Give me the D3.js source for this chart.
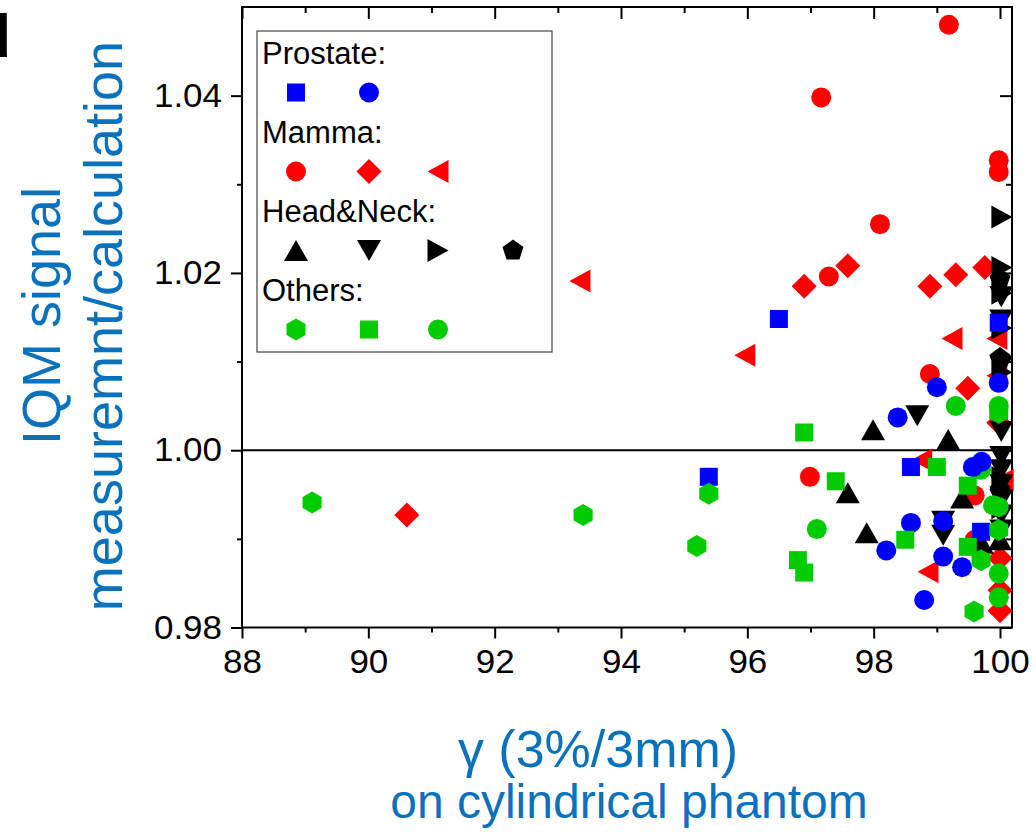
<!DOCTYPE html>
<html>
<head>
<meta charset="utf-8">
<script src="https://cdn.jsdelivr.net/npm/d3@7"></script>
<style>
  html, body { margin: 0; padding: 0; background: #fff; }
  svg { display: block; }
  text { font-family: "Liberation Sans", Arial, Helvetica, sans-serif; }
</style>
</head>
<body>
<svg id="chart" width="1036" height="832"></svg>
<script>
// ---------- data ----------
const xTicks = [88, 90, 92, 94, 96, 98, 100];
const xTickLabels = ["88", "90", "92", "94", "96", "98", "100"];
const yTicks = [0.98, 1.00, 1.02, 1.04];
const yTickLabels = ["0.98", "1.00", "1.02", "1.04"];

const prostateSquareX = [96.5, 95.39, 98.59, 99.98, 99.7];
const prostateSquareY = [1.0148, 0.9970, 0.9981, 1.0144, 0.9908];
const prostateCircleX = [98.38, 99.0, 99.98, 99.57, 99.71, 98.59, 99.1, 98.2, 99.1, 99.4, 98.8];
const prostateCircleY = [1.0037, 1.0071, 1.0076, 0.9981, 0.9987, 0.9918, 0.9920, 0.9887, 0.9880, 0.9868, 0.9831];

const mammaCircleX = [99.19, 97.17, 99.98, 99.98, 98.1, 97.29, 98.89, 96.99, 99.6, 99.6];
const mammaCircleY = [1.0480, 1.0398, 1.0327, 1.0314, 1.0255, 1.0196, 1.0086, 0.9970, 0.9949, 0.9899];
const mammaDiamondX = [90.61, 96.9, 97.59, 98.89, 99.3, 99.76, 99.49, 99.98, 100.0, 100.0, 100.0];
const mammaDiamondY = [0.9927, 1.0185, 1.0208, 1.0185, 1.0198, 1.0206, 1.0070, 1.0031, 0.9878, 0.9842, 0.9819];
const mammaTriangleX = [93.35, 95.96, 99.24, 99.95, 99.95, 98.76, 98.86, 100.05];
const mammaTriangleY = [1.0191, 1.0107, 1.0126, 1.0126, 1.0084, 0.9989, 0.9863, 0.9966];

const hnUpX = [97.99, 99.18, 97.59, 97.89, 99.4, 99.71, 100.0];
const hnUpY = [1.0023, 1.0012, 0.9952, 0.9907, 0.9946, 0.9895, 0.9899];
const hnDownX = [98.69, 99.1, 99.1, 100.02, 100.02, 100.02, 100.02, 100.02, 100.02, 100.02, 100.02, 100.02, 100.02];
const hnDownY = [1.0039, 0.9920, 0.9904, 1.0147, 1.0173, 1.0095, 1.0021, 0.9993, 0.9978, 0.9961, 0.9944, 0.9927, 0.9910];
const hnRightX = [100.03, 100.03, 100.03, 100.03, 100.03, 100.03, 100.03];
const hnRightY = [1.0263, 1.0206, 1.0177, 1.0138, 1.0088, 0.9969, 0.9935];
const hnPentX = [100.0, 100.0, 100.0];
const hnPentY = [1.0193, 1.0104, 0.9955];

const otherHexX = [89.11, 93.4, 95.39, 95.2, 99.7, 99.59, 99.98, 99.98];
const otherHexY = [0.9941, 0.9927, 0.9951, 0.9892, 0.9876, 0.9818, 1.0042, 0.9910];
const otherSquareX = [96.9, 97.4, 96.8, 96.9, 98.5, 99.0, 99.49, 99.49];
const otherSquareY = [1.0020, 0.9965, 0.9876, 0.9862, 0.9899, 0.9981, 0.9960, 0.9891];
const otherCircleX = [97.1, 99.3, 99.98, 99.7, 99.89, 99.98, 99.98, 99.98];
const otherCircleY = [0.9911, 1.0050, 1.0050, 0.9978, 0.9938, 0.9936, 0.9861, 0.9834];

const legendGroups = ["Prostate:", "Mamma:", "Head&Neck:", "Others:"];

// ---------- layout ----------
const svg = d3.select("#chart");
const L = 242, R = 1012, T = 7, B = 627.5;
const x = d3.scaleLinear().domain([88, 100.19]).range([L, R]);
const y = d3.scaleLinear().domain([0.98, 1.05]).range([B, T]);

const BLUE = "#0000ff", RED = "#ff0000", BLACK = "#000000", GREEN = "#00cc00";
const TITLE = "#0a72bc";

// ---------- symbol shapes ----------
function polygon(pts) { return "M" + pts.map(p => p[0].toFixed(2) + "," + p[1].toFixed(2)).join("L") + "Z"; }
function regular(n, r, rot) {
  const pts = [];
  for (let i = 0; i < n; i++) {
    const a = rot + i * 2 * Math.PI / n;
    pts.push([r * Math.cos(a), r * Math.sin(a)]);
  }
  return polygon(pts);
}
const shapes = {
  circle: () => { const r = 10; return `M${r},0A${r},${r} 0 1,1 ${-r},0A${r},${r} 0 1,1 ${r},0Z`; },
  square: () => { const s = 9; return polygon([[-s,-s],[s,-s],[s,s],[-s,s]]); },
  diamond: () => { const d = 12.5; return polygon([[0,-d],[d,0],[0,d],[-d,0]]); },
  left: () => polygon([[-10.5,0],[10.5,-11.5],[10.5,11.5]]),
  right: () => polygon([[10.5,0],[-10.5,-11.5],[-10.5,11.5]]),
  up: () => polygon([[0,-10.5],[12,10.5],[-12,10.5]]),
  down: () => polygon([[0,10.5],[12,-10.5],[-12,-10.5]]),
  pentagon: () => regular(5, 11, -Math.PI / 2),
  hexagon: () => regular(6, 11, -Math.PI / 2)
};

// ---------- axes ----------
const axisG = svg.append("g");
const fontTick = 33;

// bottom
axisG.append("g").attr("transform", `translate(0,${B})`)
  .call(d3.axisBottom(x).tickValues(xTicks).tickFormat((d, i) => xTickLabels[i])
    .tickSizeInner(11).tickSizeOuter(0).tickPadding(11));
axisG.append("g").attr("transform", `translate(0,${B})`)
  .call(d3.axisBottom(x).tickValues([89, 91, 93, 95, 97, 99]).tickFormat("").tickSizeInner(5).tickSizeOuter(0));
// top
axisG.append("g").attr("transform", `translate(0,${T})`)
  .call(d3.axisTop(x).tickValues(xTicks).tickFormat("").tickSizeInner(-12).tickSizeOuter(0));
axisG.append("g").attr("transform", `translate(0,${T})`)
  .call(d3.axisTop(x).tickValues([89, 91, 93, 95, 97, 99]).tickFormat("").tickSizeInner(-6).tickSizeOuter(0));
// left
axisG.append("g").attr("transform", `translate(${L},0)`)
  .call(d3.axisLeft(y).tickValues(yTicks).tickFormat((d, i) => yTickLabels[i])
    .tickSizeInner(11).tickSizeOuter(0).tickPadding(9));
axisG.append("g").attr("transform", `translate(${L},0)`)
  .call(d3.axisLeft(y).tickValues([0.99, 1.01, 1.03]).tickFormat("").tickSizeInner(5).tickSizeOuter(0));
// right
axisG.append("g").attr("transform", `translate(${R},0)`)
  .call(d3.axisRight(y).tickValues(yTicks).tickFormat("").tickSizeInner(-12).tickSizeOuter(0));
axisG.append("g").attr("transform", `translate(${R},0)`)
  .call(d3.axisRight(y).tickValues([0.99, 1.01, 1.03]).tickFormat("").tickSizeInner(-6).tickSizeOuter(0));

axisG.selectAll(".domain").remove();
axisG.selectAll(".tick line").attr("stroke", "#000").attr("stroke-width", 2);
axisG.selectAll(".tick text").attr("font-size", fontTick).attr("fill", "#000")
  .attr("font-family", '"Liberation Sans", Arial, sans-serif')
  .each(function () {
    const len = this.getComputedTextLength();
    d3.select(this).attr("textLength", len * 1.06).attr("lengthAdjust", "spacingAndGlyphs");
  });

// frame
svg.append("rect").attr("x", L).attr("y", T).attr("width", R - L).attr("height", B - T)
  .attr("fill", "none").attr("stroke", "#000").attr("stroke-width", 2);

// reference line at 1.00
svg.append("line").attr("x1", L).attr("x2", R).attr("y1", y(1.0)).attr("y2", y(1.0))
  .attr("stroke", "#000").attr("stroke-width", 2);

// ---------- points ----------
function drawSeries(xs, ys, shape, color) {
  const data = xs.map((v, i) => [v, ys[i]]);
  svg.append("g").selectAll("path").data(data).join("path")
    .attr("d", shapes[shape]())
    .attr("transform", d => `translate(${x(d[0])},${y(d[1])})`)
    .attr("fill", color);
}
drawSeries(mammaCircleX, mammaCircleY, "circle", RED);
drawSeries(mammaDiamondX, mammaDiamondY, "diamond", RED);
drawSeries(mammaTriangleX, mammaTriangleY, "left", RED);
drawSeries(hnUpX, hnUpY, "up", BLACK);
drawSeries(hnDownX, hnDownY, "down", BLACK);
drawSeries(hnRightX, hnRightY, "right", BLACK);
drawSeries(hnPentX, hnPentY, "pentagon", BLACK);
drawSeries(otherCircleX, otherCircleY, "circle", GREEN);
drawSeries(prostateSquareX, prostateSquareY, "square", BLUE);
drawSeries(prostateCircleX, prostateCircleY, "circle", BLUE);
drawSeries(otherHexX, otherHexY, "hexagon", GREEN);
drawSeries(otherSquareX, otherSquareY, "square", GREEN);

// ---------- legend ----------
const lg = svg.append("g");
lg.append("rect").attr("x", 257).attr("y", 31).attr("width", 295).attr("height", 321)
  .attr("fill", "#fff").attr("stroke", "#444").attr("stroke-width", 1.2);
const legendSymbols = [
  [["square", BLUE], ["circle", BLUE]],
  [["circle", RED], ["diamond", RED], ["left", RED]],
  [["up", BLACK], ["down", BLACK], ["right", BLACK], ["pentagon", BLACK]],
  [["hexagon", GREEN], ["square", GREEN], ["circle", GREEN]]
];
const colX = [296, 369, 438, 513];
legendGroups.forEach((name, i) => {
  const baseY = 64 + i * 79;
  lg.append("text").attr("x", 262).attr("y", baseY).attr("font-size", 31).attr("fill", "#000").text(name);
  legendSymbols[i].forEach((s, j) => {
    lg.append("path").attr("d", shapes[s[0]]())
      .attr("transform", `translate(${colX[j]},${baseY + 28.5})`).attr("fill", s[1]);
  });
});

// ---------- titles ----------
svg.append("text").attr("text-anchor", "middle").attr("fill", TITLE).attr("font-size", 54)
  .attr("transform", "translate(60,316) rotate(-90)").text("IQM signal");
svg.append("text").attr("text-anchor", "middle").attr("fill", TITLE).attr("font-size", 54)
  .attr("transform", "translate(122,326) rotate(-90)").text("measuremnt/calculation");
svg.append("text").attr("text-anchor", "middle").attr("fill", TITLE).attr("font-size", 52)
  .attr("x", 598).attr("y", 767).text("γ (3%/3mm)");
svg.append("text").attr("text-anchor", "middle").attr("fill", TITLE).attr("font-size", 48)
  .attr("x", 629).attr("y", 818).text("on cylindrical phantom");

// panel label (partially cut off in the original)
svg.append("text").attr("text-anchor", "end").attr("x", 11).attr("y", 57)
  .attr("font-size", 62).attr("font-weight", "bold").attr("fill", "#000").text("d");
</script>
</body>
</html>
